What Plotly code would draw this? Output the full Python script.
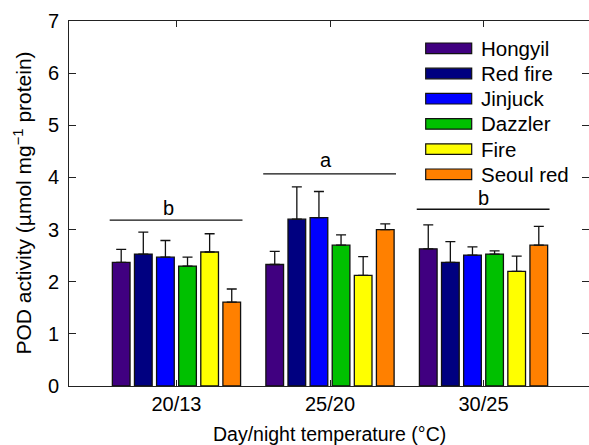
import plotly.graph_objects as go

categories = ["20/13", "25/20", "30/25"]
cultivars = ["Hongyil", "Red fire", "Jinjuck", "Dazzler", "Fire", "Seoul red"]
colors = ["#400080", "#000080", "#0000FF", "#00C000", "#FFFF00", "#FF8000"]

hongyil = [2.37, 2.33, 2.63]
red_fire = [2.53, 3.20, 2.37]
jinjuck = [2.47, 3.23, 2.51]
dazzler = [2.30, 2.70, 2.53]
fire = [2.57, 2.12, 2.20]
seoul_red = [1.61, 3.00, 2.70]

err_hongyil = [0.25, 0.25, 0.46]
err_red_fire = [0.42, 0.62, 0.40]
err_jinjuck = [0.32, 0.50, 0.16]
err_dazzler = [0.17, 0.20, 0.06]
err_fire = [0.35, 0.36, 0.29]
err_seoul_red = [0.25, 0.11, 0.36]

sig_letters = ["b", "a", "b"]
sig_line_y = [3.18, 4.07, 3.39]
sig_letter_y = [3.41, 4.33, 3.60]
sig_letter_dx = [-0.055, -0.026, 0.0]

values = [hongyil, red_fire, jinjuck, dazzler, fire, seoul_red]
errors = [err_hongyil, err_red_fire, err_jinjuck, err_dazzler, err_fire, err_seoul_red]

FONT = "Liberation Sans, Arial, sans-serif"

fig = go.Figure()
for name, col, v, e in zip(cultivars, colors, values, errors):
    fig.add_trace(go.Bar(
        x=categories, y=v, name=name,
        marker=dict(color=col, line=dict(color="#111111", width=1.3)),
        error_y=dict(type="data", array=e, arrayminus=[0] * len(e), symmetric=False,
                     color="#111111", thickness=1.3, width=5),
        showlegend=False,
    ))

# significance lines and letters
shapes = []
annotations = []
for i, (lt, ly, ty, dx) in enumerate(zip(sig_letters, sig_line_y, sig_letter_y, sig_letter_dx)):
    shapes.append(dict(type="line", xref="x", yref="y", x0=i - 0.435, x1=i + 0.43,
                       y0=ly, y1=ly, line=dict(color="#111111", width=1.3)))
    annotations.append(dict(x=i + dx, y=ty, xref="x", yref="y", text=lt, showarrow=False,
                            font=dict(family=FONT, size=20, color="black"),
                            xanchor="center", yanchor="middle"))

# manual legend (wide swatches)
PLOT_L, PLOT_R, PLOT_T, PLOT_B = 69, 589, 21, 386
W = PLOT_R - PLOT_L
H = PLOT_B - PLOT_T
def px(x):
    return (x - PLOT_L) / W
def py(y):
    return (PLOT_B - y) / H

row0 = 48.3
row_step = 25.2
for k, (name, col) in enumerate(zip(cultivars, colors)):
    yc = row0 + k * row_step
    shapes.append(dict(type="rect", xref="paper", yref="paper",
                       x0=px(425.7), x1=px(471.7), y0=py(yc + 5.3), y1=py(yc - 5.3),
                       fillcolor=col, line=dict(color="#111111", width=1.2)))
    annotations.append(dict(x=px(478.5), y=py(yc), xref="paper", yref="paper", text=name,
                            showarrow=False, xanchor="left", yanchor="middle",
                            font=dict(family=FONT, size=20.5, color="black")))

# axis titles
annotations.append(dict(x=px(22), y=py(203.5), xref="paper", yref="paper",
                        text="POD activity (\u00b5mol mg<sup>\u22121</sup> protein)",
                        textangle=-90, showarrow=False, xanchor="center", yanchor="middle",
                        font=dict(family=FONT, size=21, color="black")))
annotations.append(dict(x=0.5, y=py(434), xref="paper", yref="paper",
                        text="Day/night temperature (\u00b0C)",
                        showarrow=False, xanchor="center", yanchor="middle",
                        font=dict(family=FONT, size=19.5, color="black")))

fig.update_layout(
    width=589, height=445,
    margin=dict(l=PLOT_L, r=589 - PLOT_R, t=PLOT_T, b=445 - PLOT_B, pad=0),
    paper_bgcolor="white", plot_bgcolor="white",
    barmode="group", bargap=0.136, bargroupgap=0.2,
    shapes=shapes, annotations=annotations,
    font=dict(family=FONT, size=20, color="black"),
)
fig.update_xaxes(
    type="category", range=[-0.7, 2.687], showgrid=False, zeroline=False,
    showline=True, linecolor="#222222", linewidth=1, mirror="ticks",
    ticks="inside", ticklen=6, tickcolor="#222222", tickwidth=1,
    tickfont=dict(family=FONT, size=20, color="black"),
)
fig.update_yaxes(
    range=[0, 7], dtick=1, showgrid=False, zeroline=False,
    showline=True, linecolor="#222222", linewidth=1, mirror="ticks",
    ticks="inside", ticklen=7, tickcolor="#222222", tickwidth=1,
    ticklabelstandoff=5,
    tickfont=dict(family=FONT, size=20, color="black"),
)

fig.write_html("out.html")
